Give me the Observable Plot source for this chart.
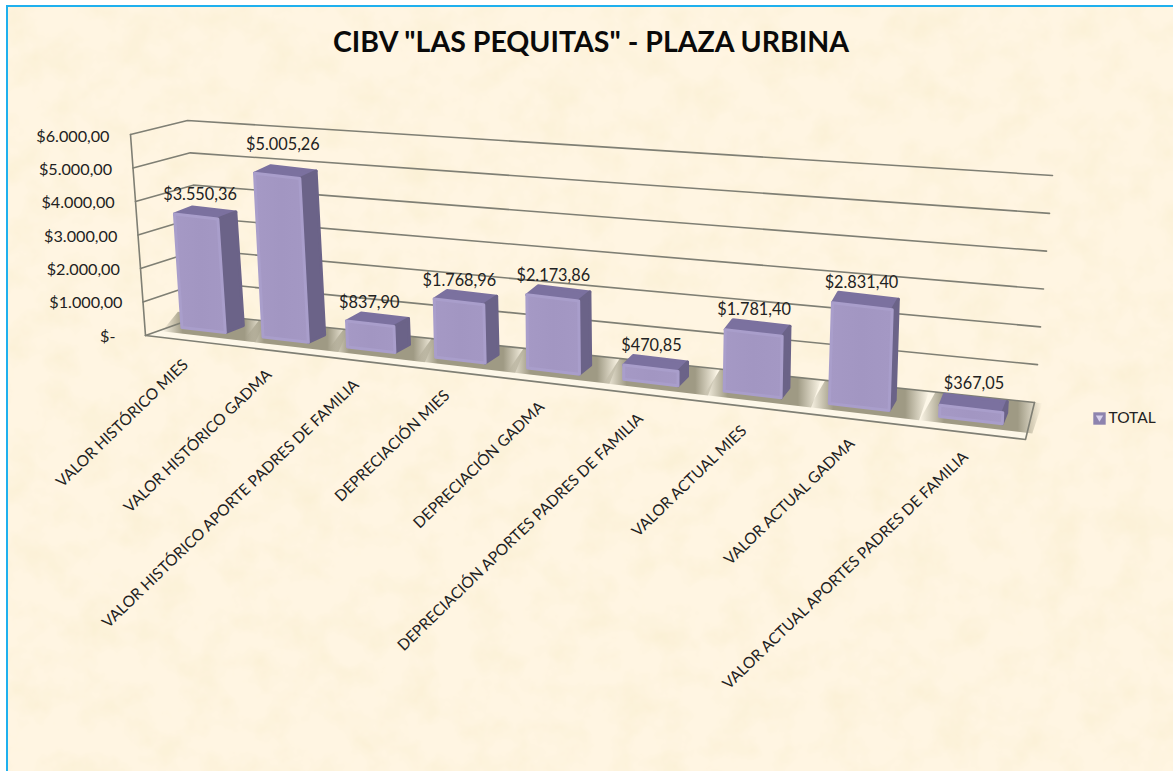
<!DOCTYPE html>
<html>
<head>
<meta charset="utf-8">
<script src="https://cdn.jsdelivr.net/npm/d3@7"></script>
<script src="https://cdn.jsdelivr.net/npm/@observablehq/plot@0.6"></script>
<style>
  html, body { margin: 0; padding: 0; background: #fff; overflow: hidden; }
  #page { position: relative; width: 1173px; height: 771px; overflow: hidden; }
  #paper {
    position: absolute; left: 6px; top: 5px; right: 0; bottom: 0;
    border-left: 2px solid #1fb0ee; border-top: 2px solid #1fb0ee;
    background-color: #fff5e2;
    background-image: url("data:image/svg+xml,%3Csvg xmlns='http://www.w3.org/2000/svg' width='1173' height='771'%3E%3Cfilter id='n' x='0' y='0' width='100%25' height='100%25'%3E%3CfeTurbulence type='fractalNoise' baseFrequency='0.028' numOctaves='4' seed='11'/%3E%3CfeColorMatrix values='0 0 0 0 0.96  0 0 0 0 0.87  0 0 0 0 0.66  1.7 0 0 0 -0.68'/%3E%3C/filter%3E%3Crect width='1173' height='771' filter='url(%23n)'/%3E%3C/svg%3E");
  }
  #title {
    position: absolute; left: 0; top: 0; width: 1182px; height: 60px;
    text-align: center; font: 700 28.5px/82px Lato, sans-serif; color: #0a0a0a; z-index: 2;
  }
  #chart { position: absolute; left: 0; top: 60px; z-index: 1; }
  #chart svg { background: transparent; display: block; }
</style>
</head>
<body>
<div id="page">
  <div id="paper"></div>
  <div id="title">CIBV "LAS PEQUITAS" - PLAZA URBINA</div>
  <div id="chart"></div>
</div>
<script>
const categories = [
  "VALOR HISTÓRICO MIES",
  "VALOR HISTÓRICO GADMA",
  "VALOR HISTÓRICO APORTE PADRES DE FAMILIA",
  "DEPRECIACIÓN MIES",
  "DEPRECIACIÓN GADMA",
  "DEPRECIACIÓN APORTES PADRES DE FAMILIA",
  "VALOR ACTUAL MIES",
  "VALOR ACTUAL GADMA",
  "VALOR ACTUAL APORTES PADRES DE FAMILIA"
];
const values = [3550.36, 5005.26, 837.90, 1768.96, 2173.86, 470.85, 1781.40, 2831.40, 367.05];
const yTicks = [0, 1000, 2000, 3000, 4000, 5000, 6000];
const seriesName = "TOTAL";

const money = d3.formatLocale({decimal: ",", thousands: ".", grouping: [3], currency: ["$", ""]}).format("$,.2f");
const tickText = v => v === 0 ? "$-" : money(v);

// The y scale is in dollars on the front edge of the left wall; everything
// further back in the 3-D scene is projected onto that plane.
const topPage = 60, svgHeight = 711, width = 1173;
const perPx = 30;
const py = px => (335 - px) * perPx;        // screen height → scale units
const yDomain = [py(topPage), py(topPage + svgHeight)];

// perspective along the category axis
const slotX = s => (76.3 * s + 203) / (1 - 0.0202 * s);
const frontY = x => 328 + 0.1174 * (x - 180);
const edgeY = x => 335 + 0.1182 * (x - 145);
const backY = x => 314 + 0.106 * (x - 204);

function corners(v, i) {
  const inset = 1.2;
  const h = (196 + 3.2 * i) * v / 6000 - 2 * inset, lean = -0.066 + 0.0139 * i;
  const dx = 18 - 1.7 * i, dy = -7 - 0.5 * i;
  const xl = slotX(i - 0.285) + inset, xr = slotX(i + 0.285) - inset;
  const yl = frontY(xl) - inset, yr = frontY(xr) - inset;
  const fbl = [xl, yl], fbr = [xr, yr];
  const ftl = [xl + lean * h, yl - h], ftr = [xr + lean * h, yr - h];
  const shift = p => [p[0] + dx, p[1] + dy];
  return {fbl, fbr, ftl, ftr, bbr: shift(fbr), btl: shift(ftl), btr: shift(ftr), xl, xr};
}
const bars = values.map((v, i) => ({v, i, name: categories[i], c: corners(v, i)}));

const poly = (key, pts) => pts.concat([pts[0]]).map(p => ({key, x: p[0], y: py(p[1])}));
const facePts = (fn) => bars.flatMap(b => poly(b.i, fn(b.c)));
const front = facePts(c => [c.ftl, c.ftr, c.fbr, c.fbl]);
const side = facePts(c => [c.ftr, c.btr, c.bbr, c.fbr]);
const topFace = facePts(c => [c.ftl, c.btl, c.btr, c.ftr]);
const shadow = bars.flatMap(b => {
  const l = b.c.xl - 20, r = b.c.xr + 30;
  return poly(b.i, [[l + 16, backY(l + 16)], [r + 10, backY(r + 10)], [r, frontY(r) + 5], [l, frontY(l) + 5]]);
});

// walls
const frontLeft = v => [145 - 15 * v / 6000, 335 - 201 * v / 6000];
const backLeft = v => [204 - 17 * v / 6000, 314 - 194 * v / 6000];
const backRight = v => [1034 + 18 * v / 6000, 402 - 227 * v / 6000];
const gridLines = yTicks.flatMap(v => [frontLeft(v), backLeft(v), backRight(v)].map(p => ({key: v, x: p[0], y: py(p[1])})));
const outline = [
  {key: "wall", p: [frontLeft(6000), frontLeft(0)]},
  {key: "floor", p: [frontLeft(0), [1025, 439], backRight(0)]}
].flatMap(d => d.p.map(p => ({key: d.key, x: p[0], y: py(p[1])})));
const floor = poly("floor", [frontLeft(0), [1025, 439], backRight(0), backLeft(0)]);

const labelX = v => v === 0 ? 115 : 122 - (v - 1000) * 13 / 5000;
const lift = v => 10 + Math.max(0, v - 3300) * 0.0065;

const valueLabels = bars.map(b => ({
  text: money(b.v),
  x: slotX(b.i) - 3.5 + 0.85 * b.i,
  y: py(Math.min(b.c.btl[1], b.c.btr[1]) - lift(b.v))
}));
const catLabels = bars.map(b => {
  const x = slotX(b.i) - 18 + 1.6 * b.i;
  return {text: b.name, x, y: py(edgeY(x) + 22)};
});

function defs() {
  const svg = d3.create("svg:defs");
  const grad = (id, stops) => {
    const g = svg.append("linearGradient").attr("id", id);
    stops.forEach(([o, c, a]) => g.append("stop").attr("offset", o).attr("stop-color", c).attr("stop-opacity", a));
  };
  grad("shadowGrad", [[0, "#9f9a84", 0], [0.2, "#9f9a84", 1], [0.8, "#9f9a84", 1], [1, "#9f9a84", 0]]);
  grad("frontGrad", [[0, "#a599c5", 1], [0.5, "#a296c2", 1], [1, "#a498c4", 1]]);
  return svg.node();
}

const fontFamily = "Lato, sans-serif";
const chart = Plot.plot({
  width, height: svgHeight,
  marginTop: 0, marginRight: 0, marginBottom: 0, marginLeft: 0,
  x: {domain: [0, width], range: [0, width], axis: null},
  y: {domain: yDomain, range: [0, svgHeight], axis: null},
  style: {fontFamily, background: "transparent"},
  marks: [
    defs,
    Plot.line(floor, {x: "x", y: "y", z: "key", fill: "#fdf7e8", stroke: "none"}),
    Plot.line(shadow, {x: "x", y: "y", z: "key", fill: "url(#shadowGrad)", stroke: "none"}),
    Plot.line(gridLines, {x: "x", y: "y", z: "key", stroke: "#7f7f74", strokeWidth: 1.6}),
    Plot.line(outline, {x: "x", y: "y", z: "key", stroke: "#7f7f74", strokeWidth: 1.6}),
    Plot.axisY(yTicks, {
      x: labelX, anchor: "left", tickSize: 0, tickPadding: 0, label: null, dy: 1,
      tickFormat: tickText, textAnchor: "end", fontSize: 16.2, fill: "#222"
    }),
    Plot.line(topFace, {x: "x", y: "y", z: "key", fill: "#7b719f", stroke: "#7b719f", strokeWidth: 3, strokeLinejoin: "round"}),
    Plot.line(side, {x: "x", y: "y", z: "key", fill: "#6b6388", stroke: "#6b6388", strokeWidth: 3, strokeLinejoin: "round"}),
    Plot.line(front, {x: "x", y: "y", z: "key", fill: "url(#frontGrad)", stroke: "#a99ecb", strokeWidth: 3, strokeLinejoin: "round"}),
    Plot.text(valueLabels, {x: "x", y: "y", text: "text", fontSize: 16.3, fill: "#222"}),
    Plot.text(catLabels, {x: "x", y: "y", text: "text", rotate: -44, textAnchor: "end", fontSize: 15.5, fill: "#222"}),
    Plot.dot([seriesName], {x: () => 1099, y: () => py(418), symbol: "square", r: 7, fill: "#8d83ae"}),
    Plot.dot([seriesName], {x: () => 1099, y: () => py(417), symbol: "triangle2", rotate: 180, r: 3.5, fill: "#d9d2ec"}),
    Plot.text([seriesName], {x: () => 1108, y: () => py(418), text: d => d, textAnchor: "start", fontSize: 15.5, fill: "#222"})
  ]
});
document.getElementById("chart").appendChild(chart);
</script>
</body>
</html>
